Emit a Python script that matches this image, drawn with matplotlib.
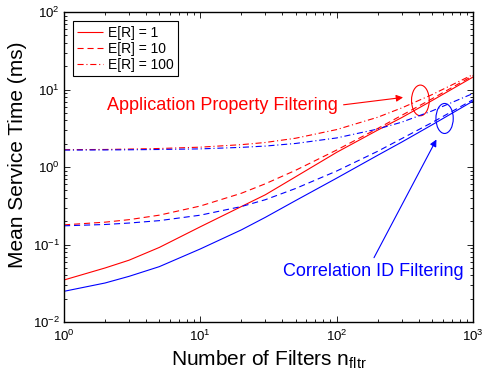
import matplotlib
matplotlib.use("Agg")
import matplotlib.pyplot as plt
from matplotlib.patches import Ellipse

plt.rcParams['font.family'] = ['Liberation Sans', 'DejaVu Sans']

# number of filters on the x axis
n_fltr = [1, 2, 3, 5, 10, 20, 30, 50, 100, 200, 300, 500, 1000]

# mean service time (ms), application property filtering
app_er1 = [0.035, 0.050, 0.063, 0.092, 0.17, 0.31, 0.44, 0.75, 1.55, 3.0, 4.35, 7.2, 14.5]
app_er10 = [0.18, 0.195, 0.21, 0.24, 0.315, 0.46, 0.61, 0.91, 1.66, 3.15, 4.65, 7.6, 15.1]
app_er100 = [1.68, 1.69, 1.71, 1.74, 1.81, 1.95, 2.08, 2.36, 3.05, 4.4, 5.8, 8.6, 15.6]

# mean service time (ms), correlation ID filtering
cid_er1 = [0.025, 0.032, 0.039, 0.052, 0.088, 0.155, 0.225, 0.37, 0.72, 1.42, 2.1, 3.5, 7.1]
cid_er10 = [0.175, 0.182, 0.19, 0.204, 0.24, 0.31, 0.38, 0.53, 0.89, 1.6, 2.33, 3.75, 7.4]
cid_er100 = [1.66, 1.667, 1.675, 1.69, 1.72, 1.80, 1.87, 2.02, 2.38, 3.1, 3.8, 5.3, 8.9]

er_labels = ['E[R] = 1', 'E[R] = 10', 'E[R] = 100']
styles = [(0, ()), (0, (5.5, 3.5)), (0, (5.5, 2.5, 1, 2.5))]

fig = plt.figure(figsize=(4.85, 3.79), dpi=100)
ax = fig.add_axes([0.132, 0.150, 0.843, 0.818])

for ys, ls, lab in zip([app_er1, app_er10, app_er100], styles, er_labels):
    ax.plot(n_fltr, ys, color='red', linestyle=ls, linewidth=0.8, label=lab)
for ys, ls in zip([cid_er1, cid_er10, cid_er100], styles):
    ax.plot(n_fltr, ys, color='blue', linestyle=ls, linewidth=0.8)

ax.set_xscale('log')
ax.set_yscale('log')
ax.set_xlim(1, 1000)
ax.set_ylim(1e-2, 1e2)

for s in ax.spines.values():
    s.set_linewidth(1.0)
ax.tick_params(which='both', direction='in', top=True, right=True,
               labelsize=9.5, width=0.6)
ax.tick_params(which='major', length=4)
ax.tick_params(which='minor', length=2)
ax.tick_params(axis='x', pad=5)
ax.tick_params(axis='y', pad=3)

ax.set_xlabel('Number of Filters n$_{\\mathregular{fltr}}$', fontsize=15)
ax.set_ylabel('Mean Service Time (ms)', fontsize=15)
ax.yaxis.set_label_coords(-0.09, 0.54)
ax.xaxis.set_label_coords(0.5, -0.085)

leg = ax.legend(loc='upper left', bbox_to_anchor=(0.021, 0.97), borderaxespad=0,
                fontsize=10, handlelength=1.9, handletextpad=0.38,
                borderpad=0.3, labelspacing=0.15, fancybox=False,
                framealpha=1, edgecolor='black')
leg.get_frame().set_linewidth(0.8)

# callouts for the two filter types
ax.annotate('', xy=(0.836, 0.726), xytext=(0.677, 0.700), xycoords='axes fraction',
            arrowprops=dict(arrowstyle='-|>', color='red', lw=0.8, mutation_scale=10))
ax.text(0.105, 0.700, 'Application Property Filtering', color='red', fontsize=13,
        ha='left', va='center', transform=ax.transAxes)
ax.add_patch(Ellipse((0.8716, 0.7152), 0.0433, 0.099, transform=ax.transAxes,
                     fill=False, edgecolor='red', lw=0.8))

ax.annotate('', xy=(0.914, 0.597), xytext=(0.755, 0.200), xycoords='axes fraction',
            arrowprops=dict(arrowstyle='-|>', color='blue', lw=0.8, mutation_scale=10))
ax.text(0.535, 0.162, 'Correlation ID Filtering', color='blue', fontsize=13,
        ha='left', va='center', transform=ax.transAxes)
ax.add_patch(Ellipse((0.9308, 0.657), 0.0423, 0.0968, transform=ax.transAxes,
                     fill=False, edgecolor='blue', lw=0.8))

fig.savefig('out.png', dpi=100)
